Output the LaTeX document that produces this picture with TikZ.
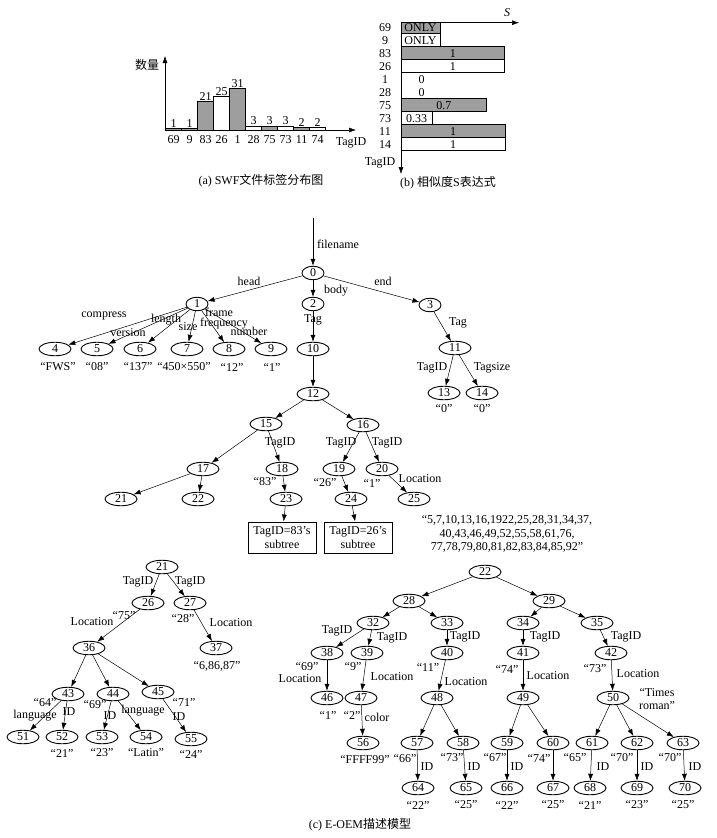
\documentclass[tikz,border=0pt]{standalone}
\usepackage{fontspec}
\setmainfont{Liberation Serif}
\newfontfamily\cjk{Noto Sans CJK SC}
\usetikzlibrary{shapes.geometric,arrows.meta}

\begin{document}
\begin{tikzpicture}[x=1pt, y=-1pt,
    every node/.style={font=\fontsize{12}{13.5}\selectfont, inner sep=1pt},
    nd/.style={draw, ellipse, line width=0.9pt, minimum width=32pt, minimum height=13.5pt, inner sep=0pt},
    snd/.style={nd, minimum width=22pt},
    ar/.style={-{Latex[length=7pt,width=5pt]}, line width=0.5pt},
    bx/.style={draw, line width=0.9pt, minimum width=68pt, minimum height=31pt, align=center, inner sep=1pt}]

    \useasboundingbox (0,0) rectangle (717,838);

    % (a) tag distribution
    \foreach \i/\t/\v/\c in {0/69/1/black!38, 1/9/1/black!38, 2/83/21/black!38, 3/26/25/white, 4/1/31/black!38,
                             5/28/3/white, 6/75/3/black!38, 7/73/3/white, 8/11/2/black!38, 9/74/2/white} {
        \filldraw[fill=\c, line width=0.7pt] (165.7+16*\i,130) rectangle ++(16,-1.35*\v);
        \node (hv\i) at (173.7+16*\i,125-1.35*\v) {\v};
        \node (ht\i) at (173.7+16*\i,140) {\t};
    }
    \draw[ar] (165,130) -- (165,56);
    \draw[ar] (165,130) -- (356,130);
    \node (ylab) at (147,65) {\cjk 数量};
    \node (xlab) at (351,143) {TagID};
    \node (capa) at (261,181) {(a) SWF{\cjk 文件标签分布图}};

    % (b) similarity S
    \foreach \i/\t/\w/\c/\s in {0/69/39/black!38/ONLY, 1/9/39/white/ONLY, 2/83/103.5/black!38/1, 3/26/103.5/white/1,
                               6/75/85.7/black!38/0.7, 7/73/31.3/white/0.33, 8/11/104/black!38/1, 9/14/104/white/1} {
        \filldraw[fill=\c, line width=0.6pt] (401,{max(22.7,20.7+13*\i)}) rectangle ({401+\w},{33.7+13*\i});
        \node (sv\i) at ({401+\w/2},{27.2+13*\i}) {\s};
        \node (sl\i) at (385,{27.2+13*\i}) {\t};
    }
    \foreach \i/\t in {4/1, 5/28} {
        \node (sv\i) at (421.7,{27.2+13*\i}) {0};
        \node (sl\i) at (385,{27.2+13*\i}) {\t};
    }
    \draw[ar] (401,22.7) -- (519,22.7);
    \draw[ar] (401,22.7) -- (401,174);
    \node (sS) at (507,13) {\textit{S}};
    \node (sT) at (380,163) {TagID};
    \node (capb) at (448,183) {(b) {\cjk 相似度}S{\cjk 表达式}};

    % (c) upper tree
    \foreach \n/\x/\y in {0/313/273, 1/197/304, 2/313/304, 3/430/305}
        \node[snd] (n\n) at (\x,\y) {\n};
    \foreach \n/\x/\y in {4/55/349, 5/97/349, 6/140/349, 7/187/349, 8/229/349, 9/271/349, 10/313/349,
                          11/455/348, 12/313/394, 13/444/393, 14/482/393, 15/266/424, 16/363/425,
                          17/203/469, 18/282/469, 19/339/469, 20/382/469,
                          21/121/499, 22/198/499, 23/286/499, 24/351/499, 25/414/499}
        \node[nd] (n\n) at (\x,\y) {\n};
    \node[bx] (b83) at (282,537.5) {TagID=83’s\\subtree};
    \node[bx] (b26) at (358,537.5) {TagID=26’s\\subtree};

    \coordinate (fn) at (313,218);
    \draw[ar] (fn) -- (n0);
    \foreach \a/\b in {0/1, 0/2, 0/3, 1/4, 1/5, 1/6, 1/7, 1/8, 1/9, 2/10, 10/12, 3/11, 11/13, 11/14,
                       12/15, 12/16, 15/17, 15/18, 16/19, 16/20, 17/21, 17/22, 18/23, 19/24, 20/25}
        \draw[ar] (n\a) -- (n\b);
    \draw[ar] (n23) -- (b83);
    \draw[ar] (n24) -- (b26);

    % (c) lower trees
    \foreach \n/\x/\y in {21/162/567, 26/148/603, 27/190/603, 36/89/648, 37/216/648, 43/68/694, 44/113/694,
                          45/158/692, 51/23/737, 52/62/737, 53/102/737, 54/146/737, 55/191/739,
                          22/485/572, 28/409/601, 29/549/601, 32/373/623, 33/447/623, 34/523/623, 35/597/623,
                          38/327/653, 39/367/653, 40/447/653, 41/523/653, 42/611/653,
                          46/327/698, 47/361/698, 48/437/698, 49/523/698, 50/613/698,
                          56/363/743, 57/417/743, 58/463/743, 59/507/743, 60/553/743, 61/592/743, 62/637/743, 63/683/743,
                          64/418/788, 65/466/788, 66/507/788, 67/553/788, 68/590/788, 69/637/788, 70/685/788}
        \node[nd] (m\n) at (\x,\y) {\n};
    \foreach \a/\b in {21/26, 21/27, 26/36, 27/37, 36/43, 36/44, 36/45, 43/51, 43/52, 44/53, 44/54, 45/55,
                       22/28, 22/29, 28/32, 28/33, 29/34, 29/35, 32/38, 32/39, 33/40, 34/41, 35/42,
                       38/46, 39/47, 40/48, 41/49, 42/50, 47/56, 48/57, 48/58, 49/59, 49/60, 50/61, 50/62, 50/63,
                       57/64, 58/65, 59/66, 60/67, 61/68, 62/69, 63/70}
        \draw[ar] (m\a) -- (m\b);

    % Labels
    \foreach \x/\y/\t [count=\k] in {338/244/filename, 249/281/head, 336/291/body, 383/281/end,
            104/316/compress, 128/333/version, 166/320/length, 188/327/size, 219/312/frame,
            224/324/frequency, 249/331/number, 313/320/Tag, 458/323/Tag, 432/368/TagID, 492/368/Tagsize,
            58/367/“FWS”, 97/367/“08”, 138/367/“137”, 184/367/“450×550”, 232/367/“12”, 272/367/“1”,
            444/409/“0”, 482/409/“0”, 280/443/TagID, 341/443/TagID, 387/443/TagID,
            265/482/“83”, 325/483/“26”, 372/483/“1”, 420/479/Location,
            138/582/TagID, 190/582/TagID, 124/616/“75”, 92/622/Location, 183/619/“28”, 231/623/Location,
            217/666/{“6,86,87”}, 45/703/“64”, 35/716/language, 69/712/ID, 95/705/“69”, 110/716/ID,
            143/711/language, 184/702/“71”, 179/717/ID,
            62/753/“21”, 102/753/“23”, 146/753/“Latin”, 191/754/“24”,
            337/631/TagID, 392/638/TagID, 465/637/TagID, 545/637/TagID, 626/637/TagID,
            307/667/“69”, 300/679/Location, 353/667/“9”, 392/677/Location, 428/667/“11”, 466/682/Location,
            507/669/“74”, 548/676/Location, 595/669/“73”, 638/674/Location,
            328/715/“1”, 352/715/“2”, 377/717/color, 365/760/“FFFF99”,
            405/759/“66”, 427/767/ID, 452/758/“73”, 474/767/ID, 495/758/“67”, 517/767/ID, 539/758/“74”,
            575/758/“65”, 603/767/ID, 622/758/“70”, 647/767/ID, 670/758/“70”, 695/767/ID,
            418/805/“22”, 466/805/“25”, 507/805/“22”, 553/805/“25”, 590/805/“21”, 637/805/“23”, 683/805/“25”}
        \node (lab\k) at (\x,\y) {\t};

    \node[align=center] (tr) at (657,699) {“Times\\roman”};
    \node[align=center] (locs) at (507,534) {“5,7,10,13,16,1922,25,28,31,34,37,\\40,43,46,49,52,55,58,61,76,\\77,78,79,80,81,82,83,84,85,92”};
    \node (capc) at (360,825) {(c) E-OEM{\cjk 描述模型}};

\end{tikzpicture}
\end{document}
